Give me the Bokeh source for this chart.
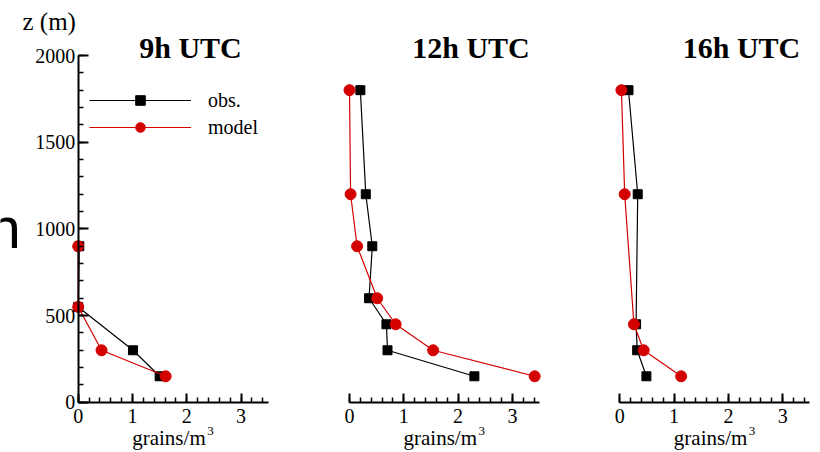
from bokeh.plotting import figure
from bokeh.models import (Range1d, LinearAxis, SingleIntervalTicker, Label,
                          Legend, LegendItem, ColumnDataSource)
from bokeh.embed import file_html
from bokeh.resources import INLINE

# Vertical profiles of pollen concentration (grains/m3) against height z (m)
panel_titles = ["9h UTC", "12h UTC", "16h UTC"]

heights_9h = [150, 300, 550, 900]
obs_9h = [1.50, 1.01, 0.00, 0.02]
model_9h = [1.61, 0.43, 0.00, 0.00]

heights_12h = [150, 300, 450, 600, 900, 1200, 1800]
obs_12h = [2.30, 0.70, 0.68, 0.36, 0.42, 0.30, 0.20]
model_12h = [3.41, 1.54, 0.85, 0.51, 0.14, 0.02, 0.00]

heights_16h = [150, 300, 450, 1200, 1800]
obs_16h = [0.49, 0.32, 0.30, 0.33, 0.16]
model_16h = [1.13, 0.44, 0.26, 0.09, 0.03]

series_names = ["obs.", "model"]
x_label_base, x_label_exp = "grains/m", "3"
y_label = "z (m)"

# ---- layout ---------------------------------------------------------------
W, H = 820, 452
SERIF = "Liberation Serif"
RED = "#d40000"
PX_PER_UNIT = 54.3                      # screen pixels per grains/m3
PANEL_ORIGINS = [77.7, 349.0, 619.3]    # screen x of zero concentration
Y0_PX, YTOP_PX = 401.8, 55.0            # screen y (from top) of z=0 and z=2000
Z_TOP = 2000
X_MAX = 3.5
DROP = 0.27                             # label baseline correction (em)

y_px_per_m = (Y0_PX - YTOP_PX) / Z_TOP
y_range = Range1d(-(H - Y0_PX) / y_px_per_m, Z_TOP + YTOP_PX / y_px_per_m)

ranges = {}
for k, o in enumerate(PANEL_ORIGINS):
    ranges[f"panel{k}"] = Range1d(-o / PX_PER_UNIT, (W - o) / PX_PER_UNIT)

p = figure(width=W, height=H, output_backend="svg", toolbar_location=None,
           tools="", title=None, x_axis_location=None, y_axis_location=None,
           min_border=0, x_range=Range1d(-PANEL_ORIGINS[0] / PX_PER_UNIT,
                                         (W - PANEL_ORIGINS[0]) / PX_PER_UNIT),
           y_range=y_range)
p.extra_x_ranges = ranges
p.outline_line_color = None
p.background_fill_color = "white"
p.border_fill_color = "white"
p.grid.visible = False
p.xgrid.grid_line_color = None
p.ygrid.grid_line_color = None


def baseline_y(px_from_top, size):
    """Screen y (from bottom) that puts a label's baseline px_from_top down."""
    return H - px_from_top + DROP * size


def style_axis(ax):
    ax.axis_line_width = 2
    ax.axis_line_color = "black"
    ax.major_tick_line_width = 2
    ax.minor_tick_line_width = 1.5
    ax.major_tick_line_color = "black"
    ax.minor_tick_line_color = "black"
    ax.major_tick_out = 0
    ax.minor_tick_out = 0
    ax.major_label_text_font = SERIF
    ax.major_label_text_font_size = "20px"
    ax.major_label_text_color = "black"


# height axis, only on the first panel
yaxis = LinearAxis(x_range_name="panel0", fixed_location=0, bounds=(0, Z_TOP),
                   ticker=SingleIntervalTicker(interval=500, num_minor_ticks=5))
style_axis(yaxis)
yaxis.major_tick_in = 10
yaxis.minor_tick_in = 5
yaxis.major_label_standoff = 3
p.add_layout(yaxis, "left")

profiles = [(heights_9h, obs_9h, model_9h),
            (heights_12h, obs_12h, model_12h),
            (heights_16h, obs_16h, model_16h)]

legend_renderers = None
for k, (z, obs, mod) in enumerate(profiles):
    name = f"panel{k}"
    xaxis = LinearAxis(x_range_name=name, fixed_location=0, bounds=(0, X_MAX),
                       ticker=SingleIntervalTicker(interval=1, num_minor_ticks=5))
    style_axis(xaxis)
    xaxis.major_tick_in = 9
    xaxis.minor_tick_in = 5
    xaxis.major_label_standoff = 7
    p.add_layout(xaxis, "below")

    # axis title under the concentration axis, with a raised exponent
    cx = PANEL_ORIGINS[k] + X_MAX / 2 * PX_PER_UNIT
    p.add_layout(Label(x=cx - 41, y=baseline_y(443, 21), x_units="screen",
                       y_units="screen", text=x_label_base,
                       text_font=SERIF, text_font_size="21px",
                       text_font_style="normal", text_baseline="alphabetic",
                       text_color="black"))
    p.add_layout(Label(x=cx + 34, y=baseline_y(434, 13), x_units="screen",
                       y_units="screen", text=x_label_exp,
                       text_font=SERIF, text_font_size="13px",
                       text_baseline="alphabetic", text_color="black"))

    src_obs = ColumnDataSource(dict(c=obs, z=z))
    src_mod = ColumnDataSource(dict(c=mod, z=z))
    lo = p.line("c", "z", source=src_obs, x_range_name=name,
                line_color="black", line_width=1.2)
    so = p.scatter("c", "z", source=src_obs, x_range_name=name,
                   marker="square", size=9, color="black")
    lm = p.line("c", "z", source=src_mod, x_range_name=name,
                line_color=RED, line_width=1.2)
    sm = p.scatter("c", "z", source=src_mod, x_range_name=name,
                   marker="circle", size=11, color=RED)
    if legend_renderers is None:
        legend_renderers = [[lo, so], [lm, sm]]

    p.add_layout(Label(x=[190, 470.5, 741][k], y=baseline_y(55, 30),
                       x_units="screen", y_units="screen", text=panel_titles[k],
                       text_align="center", text_baseline="alphabetic",
                       text_font=SERIF, text_font_style="bold",
                       text_font_size="30px", text_color="black"))

legend = Legend(items=[LegendItem(label=series_names[0], renderers=legend_renderers[0]),
                       LegendItem(label=series_names[1], renderers=legend_renderers[1])],
                location=(89, H - 139), orientation="vertical",
                glyph_width=102, glyph_height=24, label_height=24, spacing=3,
                padding=0, margin=0, border_line_color=None,
                background_fill_alpha=0, label_standoff=17,
                label_text_font=SERIF, label_text_font_size="20px",
                label_text_color="black")
p.add_layout(legend)

p.add_layout(Label(x=22, y=baseline_y(28, 25), x_units="screen", y_units="screen",
                   text=y_label, text_font=SERIF, text_font_size="25px",
                   text_baseline="alphabetic", text_color="black"))

# stray large glyph at the left margin
p.add_layout(Label(x=-12, y=baseline_y(243, 58), x_units="screen", y_units="screen",
                   text="n", text_font="Liberation Sans", text_font_size="58px",
                   text_baseline="alphabetic", text_color="black"))

open("out.html", "w").write(file_html(p, INLINE))
